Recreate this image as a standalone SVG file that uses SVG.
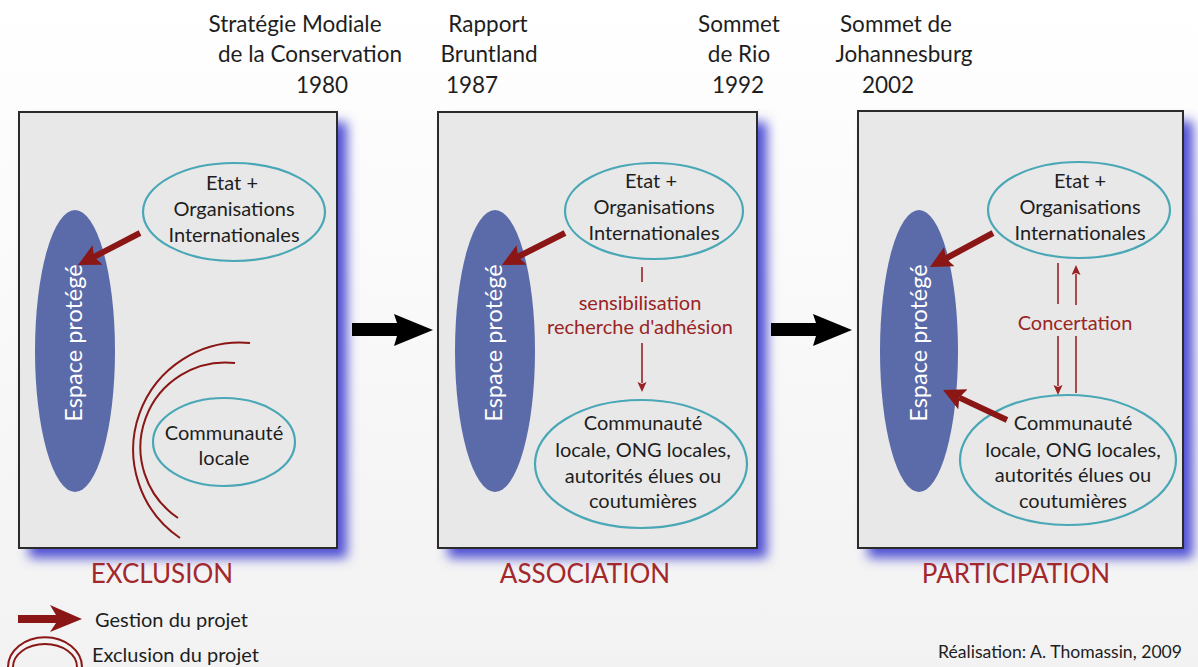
<svg xmlns="http://www.w3.org/2000/svg" width="1198" height="667" viewBox="0 0 1198 667">
<defs>
<linearGradient id="bg" x1="0" y1="0" x2="0" y2="1">
<stop offset="0" stop-color="#ffffff"/>
<stop offset="1" stop-color="#f2f2f2"/>
</linearGradient>
<filter id="glow" x="-20%" y="-20%" width="140%" height="140%">
<feGaussianBlur stdDeviation="6"/>
</filter>
<marker id="bigHead" markerUnits="userSpaceOnUse" markerWidth="24" markerHeight="24" refX="4" refY="11" orient="auto">
<path d="M0,0 L22,11 L0,22 L4,11 Z" fill="#8a1616"/>
</marker>
<marker id="thinHead" markerUnits="userSpaceOnUse" markerWidth="12" markerHeight="12" refX="1" refY="4.5" orient="auto">
<path d="M0,0 L10,4.5 L0,9 L2,4.5 Z" fill="#9a2222"/>
</marker>
<style>
text{font-family:Lato,"Open Sans","DejaVu Sans",sans-serif}
.panel{fill:#e8e8e8;stroke:#2b2b2b;stroke-width:2}
.shadow{fill:#4f4fd4;filter:url(#glow)}
.space{fill:#5b6aa8}
.spaceTxt{fill:#ffffff;font-size:23.5px;text-anchor:middle}
.actor{fill:none;stroke:#49a7b6;stroke-width:2.2}
.nt{fill:#1e1e1e;font-size:20px;text-anchor:middle}
.top{fill:#1e1e1e;font-size:22.5px;text-anchor:middle}
.big{stroke:#8a1616;stroke-width:6;fill:none;marker-end:url(#bigHead)}
.thin{stroke:#9a2222;stroke-width:1.6;fill:none}
.thinA{stroke:#9a2222;stroke-width:1.6;fill:none;marker-end:url(#thinHead)}
.rt{fill:#9a2424;font-size:20px;text-anchor:middle}
.lab{fill:#a3282b;font-size:26px;text-anchor:middle}
.arc{stroke:#8a1616;stroke-width:2;fill:none}
.leg{fill:#1e1e1e;font-size:20px}
.credit{fill:#1e1e1e;font-size:17.6px;text-anchor:end}
</style>
</defs>
<rect x="0" y="0" width="1198" height="667" fill="url(#bg)"/>

<g id="timeline">
<text class="top" x="295" y="32">Stratégie Modiale</text>
<text class="top" x="310" y="62">de la Conservation</text>
<text class="top" x="322" y="93">1980</text>
<text class="top" x="488" y="32">Rapport</text>
<text class="top" x="489" y="62">Bruntland</text>
<text class="top" x="472" y="93">1987</text>
<text class="top" x="739" y="32">Sommet</text>
<text class="top" x="739" y="62">de Rio</text>
<text class="top" x="738" y="93">1992</text>
<text class="top" x="896" y="32">Sommet de</text>
<text class="top" x="904" y="62">Johannesburg</text>
<text class="top" x="888" y="93">2002</text>
</g>

<g id="panel-exclusion">
<rect class="shadow" x="29" y="122" width="318" height="436"/>
<rect class="panel" x="19" y="112" width="318" height="436"/>
<text class="lab" x="162" y="583">EXCLUSION</text>
</g>
<g id="panel-association">
<rect class="shadow" x="448" y="122" width="319" height="436"/>
<rect class="panel" x="438" y="112" width="319" height="436"/>
<text class="lab" x="585" y="583">ASSOCIATION</text>
</g>
<g id="panel-participation">
<rect class="shadow" x="868" y="121" width="325" height="437"/>
<rect class="panel" x="858" y="111" width="325" height="437"/>
<text class="lab" x="1016" y="583">PARTICIPATION</text>
</g>

<g id="espace1">
<ellipse class="space" cx="75" cy="351" rx="40" ry="141"/>
<text class="spaceTxt" transform="translate(82,343) rotate(-90)">Espace protégé</text>
</g>
<g id="etat1">
<ellipse class="actor" cx="234" cy="212" rx="91" ry="49"/>
<text class="nt" x="232" y="190">Etat +</text>
<text class="nt" x="234" y="216">Organisations</text>
<text class="nt" x="234" y="242">Internationales</text>
</g>
<g id="communaute1">
<ellipse class="actor" cx="224" cy="442" rx="71" ry="44"/>
<text class="nt" x="224" y="440">Communauté</text>
<text class="nt" x="224" y="465">locale</text>
</g>

<g id="espace2">
<ellipse class="space" cx="495" cy="351" rx="40" ry="141"/>
<text class="spaceTxt" transform="translate(502,343) rotate(-90)">Espace protégé</text>
</g>
<g id="etat2">
<ellipse class="actor" cx="654" cy="211" rx="89" ry="48"/>
<text class="nt" x="651" y="188">Etat +</text>
<text class="nt" x="654" y="214">Organisations</text>
<text class="nt" x="654" y="240">Internationales</text>
</g>
<g id="communaute2">
<ellipse class="actor" cx="641" cy="464" rx="106" ry="64"/>
<text class="nt" x="643" y="430">Communauté</text>
<text class="nt" x="643" y="457">locale, ONG locales,</text>
<text class="nt" x="643" y="483">autorités élues ou</text>
<text class="nt" x="643" y="508">coutumières</text>
</g>

<g id="espace3">
<ellipse class="space" cx="919" cy="351" rx="39" ry="141"/>
<text class="spaceTxt" transform="translate(927,343) rotate(-90)">Espace protégé</text>
</g>
<g id="etat3">
<ellipse class="actor" cx="1079" cy="210" rx="91" ry="48"/>
<text class="nt" x="1080" y="188">Etat +</text>
<text class="nt" x="1080" y="214">Organisations</text>
<text class="nt" x="1080" y="240">Internationales</text>
</g>
<g id="communaute3">
<ellipse class="actor" cx="1068" cy="460" rx="108" ry="65"/>
<text class="nt" x="1073" y="430">Communauté</text>
<text class="nt" x="1073" y="457">locale, ONG locales,</text>
<text class="nt" x="1073" y="482">autorités élues ou</text>
<text class="nt" x="1073" y="508">coutumières</text>
</g>

<g id="connectors">
<path class="big" d="M140,233 L94,256.8"/>
<path class="big" d="M565,233 L518,256.8"/>
<path class="big" d="M993,233 L945.8,258.5"/>
<path class="big" d="M1007,420 L959.3,397.6"/>
<path class="arc" d="M250,343 A107,107 0 0 0 180,538"/>
<path class="arc" d="M235,363 A85,85 0 0 0 178,518"/>
<path class="thin" d="M642,267 L642,282"/>
<path class="thinA" d="M642,343 L642,383"/>
<text class="rt" x="640" y="310">sensibilisation</text>
<text class="rt" x="640" y="334">recherche d'adhésion</text>
<path class="thin" d="M1058,263 L1058,304"/>
<path class="thinA" d="M1058,336 L1058,386"/>
<path class="thin" d="M1076,393 L1076,336"/>
<path class="thinA" d="M1076,305 L1076,274"/>
<text class="rt" x="1075" y="330">Concertation</text>
<path d="M352,323 L397,323 L394,314 L433,330 L394,346 L397,336 L352,336 Z" fill="#000"/>
<path d="M771,323 L816,323 L813,314 L852,330 L813,346 L816,336 L771,336 Z" fill="#000"/>
</g>

<g id="legend">
<path d="M18,615 L56,615 L50,605 L82,619 L50,632 L56,623 L18,623 Z" fill="#8a1616"/>
<text class="leg" x="95" y="627">Gestion du projet</text>
<path class="arc" d="M8,667 A36,29 0 0 1 82,667"/>
<path class="arc" d="M13,667 A32,23 0 0 1 77,667"/>
<text class="leg" x="92" y="662">Exclusion du projet</text>
<text class="credit" x="1182" y="658">Réalisation: A. Thomassin, 2009</text>
</g>
</svg>
